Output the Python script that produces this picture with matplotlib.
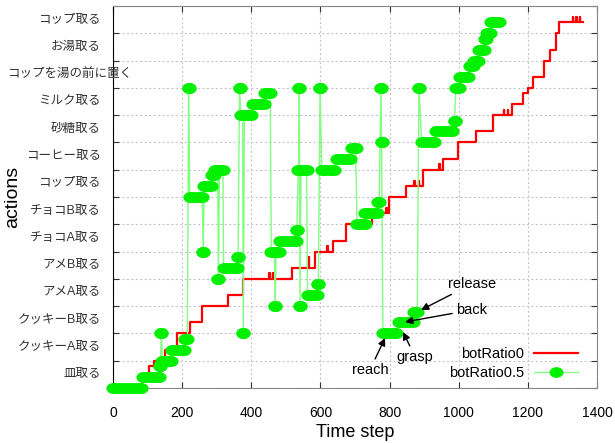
import numpy as np
import matplotlib
matplotlib.use('Agg')
import matplotlib.pyplot as plt
from matplotlib.lines import Line2D
from matplotlib.path import Path
import matplotlib.transforms as mtransforms

plt.rcParams['font.family'] = ['Liberation Sans', 'Noto Sans CJK JP', 'DejaVu Sans']

# y categories (one band per action, bottom to top)
actions = ['皿取る', 'クッキーA取る', 'クッキーB取る', 'アメA取る', 'アメB取る',
           'チョコA取る', 'チョコB取る', 'コップ取る', 'コーヒー取る', '砂糖取る',
           'ミルク取る', 'コップを湯の前に置く', 'お湯取る', 'コップ取る']
xticks = [0, 200, 400, 600, 800, 1000, 1200, 1400]

# botRatio0: step changes (time, level)
red_t = [0, 85, 105, 118, 150, 185, 223, 257, 334, 377, 452, 454, 462, 464,
         517, 565, 568, 584, 620, 622, 636, 673, 748, 790, 792, 798, 848,
         872, 874, 884, 886, 898, 944, 946, 956, 999, 1050, 1100, 1130, 1132,
         1142, 1144, 1153, 1185, 1200, 1214, 1247, 1264, 1282, 1289, 1330,
         1332, 1340, 1342, 1350, 1352, 1360]
red_y = [0, 0.4, 0.8, 1.0, 1.4, 2.0, 2.4, 3.0, 3.4, 4.0, 4.2, 4.0, 4.2, 4.0,
         4.4, 4.8, 4.4, 5.0, 5.2, 5.0, 5.4, 6.0, 6.4, 6.6, 6.4, 7.0, 7.4,
         7.6, 7.4, 7.6, 7.4, 8.0, 8.2, 8.0, 8.4, 9.0, 9.4, 10.0, 10.2, 10.0,
         10.2, 10.0, 10.4, 10.8, 11.0, 11.4, 12.0, 12.4, 13.0, 13.4, 13.6,
         13.4, 13.6, 13.4, 13.6, 13.4, 13.4]

# botRatio0.5: plateaus (start, end, level)
green_t0 = [0, 88, 135, 140, 143, 172, 208, 219, 222, 261, 264, 287, 294, 305,
            308, 320, 362, 366, 370, 377, 380, 404, 440, 458, 469, 472, 484,
            532, 536, 539, 541, 544, 563, 594, 599, 604, 648, 690, 706, 729,
            768, 775, 777, 781, 826, 872, 885, 893, 933, 988, 992, 1004, 1032,
            1045, 1058, 1076, 1083, 1093]
green_t1 = [80, 132, 137, 140, 168, 205, 215, 219, 258, 261, 284, 291, 303, 305,
            318, 358, 362, 366, 375, 377, 400, 436, 455, 467, 469, 480, 528,
            532, 537, 539, 541, 560, 590, 594, 599, 640, 686, 702, 728, 765,
            770, 775, 777, 820, 868, 880, 885, 928, 980, 988, 1000, 1028, 1040,
            1055, 1072, 1080, 1090, 1118]
green_y = [0.0, 0.4, 0.8, 2.0, 1.0, 1.4, 1.8, 11.0, 7.0, 5.0, 7.4, 7.8, 8.0, 4.0,
           8.0, 4.4, 4.8, 11.0, 10.0, 2.0, 10.0, 10.4, 10.8, 5.0, 3.0, 5.0, 5.4,
           5.8, 8.0, 11.0, 3.0, 8.0, 3.4, 3.8, 11.0, 8.0, 8.4, 8.8, 6.0, 6.4,
           6.8, 11.0, 9.0, 2.0, 2.4, 2.8, 11.0, 9.0, 9.4, 9.8, 11.0, 11.4, 11.8,
           12.0, 12.4, 12.8, 13.0, 13.4]

# slightly wide point, like the gnuplot dots
th = np.linspace(0, 2 * np.pi, 60)
dot = Path(np.column_stack([1.3 * np.cos(th), np.sin(th)]), closed=True)

fig = plt.figure(figsize=(6.15, 4.43), dpi=100)
ax = fig.add_axes([0.1837, 0.1242, 0.787, 0.8623])

ax.plot(red_t, red_y, drawstyle='steps-post', color='#ff0000', lw=1.6, zorder=3)

# thin connecting line of the green run
gx, gy = [], []
for a, b, y in zip(green_t0, green_t1, green_y):
    gx += [a, b]
    gy += [y, y]
ax.plot(gx, gy, color='#80ff80', lw=1, zorder=4)

# blobs of markers
for a, b, y in zip(green_t0, green_t1, green_y):
    ax.plot([a, b], [y, y], color='#00f000', lw=7.8, marker=dot, ms=10.2,
            markeredgewidth=0, solid_capstyle='butt', zorder=5, clip_on=False)

# reach / grasp / back / release annotations
i_reach = green_t0.index(781)
i_back = green_t0.index(826)
i_rel = green_t0.index(872)
arw = dict(arrowstyle='-|>', color='black', lw=1, mutation_scale=11,
           shrinkA=1, shrinkB=0)
kw = dict(fontsize=10.5, ha='center', va='center', arrowprops=arw, zorder=6)
ax.annotate('release', xy=(green_t1[i_rel] + 11, green_y[i_rel] + 0.06),
            xytext=(1038, 3.81), **kw)
ax.annotate('back', xy=(green_t0[i_back] + 19, green_y[i_back] + 0.02),
            xytext=(1038, 2.86), **kw)
ax.annotate('grasp', xy=(green_t1[i_reach] + 19, green_y[i_reach] + 0.05),
            xytext=(874, 1.14), **kw)
ax.annotate('reach', xy=(green_t0[i_reach] + 6, green_y[i_reach] - 0.17),
            xytext=(743, 0.66), **kw)

ax.set_xlim(0, 1400)
ax.set_ylim(0, len(actions))
ax.set_xticks(xticks)
ax.set_xticklabels([str(v) for v in xticks], fontsize=10)
ax.set_yticks(np.arange(len(actions) + 1))
ax.set_yticklabels([])
ax.tick_params(axis='both', which='major', direction='in', length=4,
               right=True, top=True, color='#333333')
ax.tick_params(axis='x', pad=13)
ax.grid(True, which='major', color='#c8c8c8', ls=(0, (2, 2)), lw=0.8)
ax.set_axisbelow(True)

# action names sit in the middle of each band
trans = mtransforms.blended_transform_factory(ax.transAxes, ax.transData)
for i, name in enumerate(actions):
    if len(name) > 8:
        ax.text(-0.089, i + 0.5, name, transform=trans, ha='center',
                va='center', fontsize=9, color='#333333', zorder=7)
    else:
        ax.text(-0.025, i + 0.5, name, transform=trans, ha='right',
                va='center', fontsize=9, color='#333333')

for s in ['top', 'right', 'bottom']:
    ax.spines[s].set_color('#888888')
ax.spines['left'].set_color('black')

ax.set_xlabel('Time step', fontsize=13, labelpad=3)
ax.set_ylabel('actions', fontsize=14)
ax.yaxis.set_label_coords(-0.19, 0.5)

handles = [Line2D([], [], color='#ff0000', lw=1.6),
           Line2D([], [], color='#80ff80', lw=1, marker=dot, ms=10,
                  markerfacecolor='#00f000', markeredgewidth=0)]
ax.legend(handles, ['botRatio0', 'botRatio0.5'], loc='lower right',
          bbox_to_anchor=(0.985, -0.01), frameon=False, markerfirst=False,
          fontsize=10.5, handlelength=3.0, handletextpad=0.7,
          labelspacing=0.35, borderaxespad=0.4)

fig.savefig('out.png', dpi=100)
